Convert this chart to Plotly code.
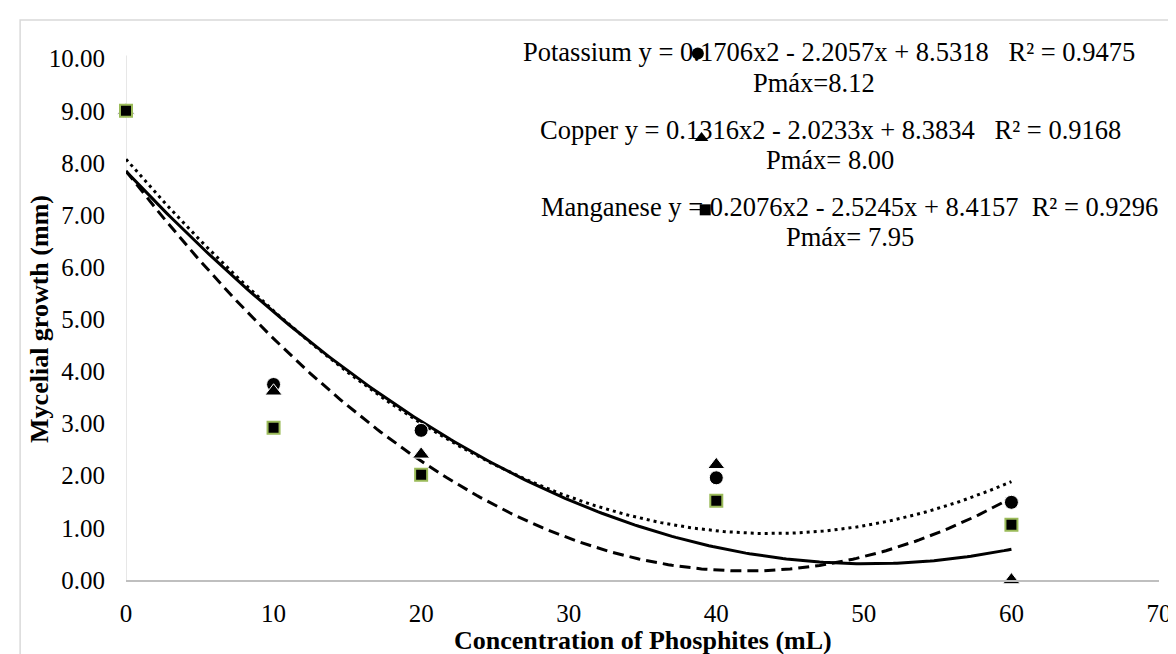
import numpy as np
import plotly.graph_objects as go

# ---- data ----
conc = [0, 10, 20, 40, 60]
potassium = [9.00, 3.75, 2.87, 1.96, 1.49]
copper = [9.00, 3.62, 2.41, 2.21, 0.00]
manganese = [9.00, 2.92, 2.02, 1.52, 1.06]

x_ticks = [0, 10, 20, 30, 40, 50, 60, 70]
y_ticks = [0, 1, 2, 3, 4, 5, 6, 7, 8, 9, 10]

# stray key markers placed beside the equations (data units)
key_x = [38.75, 39.0, 39.25]
key_y = [10.10, 8.48, 7.10]

NB = "\u00a0"
eq_texts = [
    "Potassium y = 0.1706x2 - 2.2057x + 8.5318" + NB * 3 + "R² = 0.9475",
    "Pmáx=8.12",
    "Copper y = 0.1316x2 - 2.0233x + 8.3834" + NB * 3 + "R² = 0.9168",
    "Pmáx=" + NB + "8.00",
    "Manganese y = 0.2076x2 - 2.5245x + 8.4157" + NB * 2 + "R² = 0.9296",
    "Pmáx=" + NB + "7.95",
]
eq_x = [47.66, 46.60, 47.72, 47.72, 49.00, 49.06]
eq_y = [10.12, 9.54, 8.64, 8.06, 7.16, 6.58]

FONT = "Liberation Serif"
GREEN = "#9BBB59"

fig = go.Figure()

# quadratic trendlines (least-squares fits of each series)
xs = np.linspace(0, 60, 241)
for vals, dash in [(potassium, "3px,4px"), (copper, "solid"), (manganese, "11px,6px")]:
    coef = np.polyfit(conc, vals, 2)
    fig.add_trace(go.Scatter(x=xs, y=np.polyval(coef, xs), mode="lines",
                             line=dict(color="black", width=3, dash=dash),
                             showlegend=False, hoverinfo="skip"))

fig.add_trace(go.Scatter(x=conc, y=potassium, mode="markers", name="Potassium",
                         marker=dict(symbol="circle", size=14, color="black",
                                     line=dict(color="white", width=1)),
                         cliponaxis=False, showlegend=False))
fig.add_trace(go.Scatter(x=conc, y=copper, mode="markers", name="Copper",
                         marker=dict(symbol="triangle-up", size=15, color="black",
                                     line=dict(color="white", width=1)),
                         cliponaxis=False, showlegend=False))
fig.add_trace(go.Scatter(x=conc, y=manganese, mode="markers", name="Manganese",
                         marker=dict(symbol="square", size=12, color="black",
                                     line=dict(color=GREEN, width=2)),
                         cliponaxis=False, showlegend=False))

annotations = []
for t, ax_, ay_ in zip(eq_texts, eq_x, eq_y):
    annotations.append(dict(x=ax_, y=ay_, xref="x", yref="y", text=t, showarrow=False,
                            xanchor="center", yanchor="middle",
                            font=dict(family=FONT, size=26.5, color="black")))
annotations.append(dict(x=0.5005, y=-0.113, xref="paper", yref="paper",
                        text="<b>Concentration of Phosphites (mL)</b>", showarrow=False,
                        xanchor="center", yanchor="middle",
                        font=dict(family=FONT, size=26, color="black")))
annotations.append(dict(x=-0.0843, y=0.486, xref="paper", yref="paper",
                        text="<b>Mycelial growth (mm)</b>", showarrow=False, textangle=-90,
                        xanchor="center", yanchor="middle",
                        font=dict(family=FONT, size=26, color="black")))

# key markers (drawn after text so they sit on top, as in the reference)
fig.add_trace(go.Scatter(x=[key_x[0]], y=[key_y[0]], mode="markers",
                         marker=dict(symbol="circle", size=12, color="black"),
                         cliponaxis=False, showlegend=False))
fig.add_trace(go.Scatter(x=[key_x[1]], y=[key_y[1]], mode="markers",
                         marker=dict(symbol="triangle-up", size=12, color="black"),
                         cliponaxis=False, showlegend=False))
fig.add_trace(go.Scatter(x=[key_x[2]], y=[key_y[2]], mode="markers",
                         marker=dict(symbol="square", size=11, color="black"),
                         cliponaxis=False, showlegend=False))

fig.update_layout(
    width=1176, height=654,
    margin=dict(l=118, r=14, t=35, b=82),
    paper_bgcolor="white", plot_bgcolor="white",
    font=dict(family=FONT, size=25, color="black"),
    annotations=annotations,
    shapes=[
        dict(type="rect", xref="paper", yref="paper",
             x0=-0.1025, x1=1.05, y0=-0.3, y1=1.043,
             line=dict(color="#D9D9D9", width=1.5), layer="below"),
        dict(type="line", xref="x", yref="y", x0=0, x1=0, y0=0, y1=10.06,
             line=dict(color="#D0D0D0", width=1), layer="below"),
    ],
)
fig.update_xaxes(range=[0, 70], tickvals=x_ticks, showgrid=False, zeroline=False,
                 showline=True, linecolor="#BFBFBF", linewidth=1.5, ticks="",
                 ticklabelstandoff=10, tickfont=dict(family=FONT, size=25, color="black"))
fig.update_yaxes(range=[0, 10.3], tickvals=y_ticks, tickformat=".2f", showgrid=False,
                 zeroline=False, showline=False,
                 ticks="", ticklabelstandoff=20,
                 tickfont=dict(family=FONT, size=25, color="black"))

fig.write_html("out.html")
